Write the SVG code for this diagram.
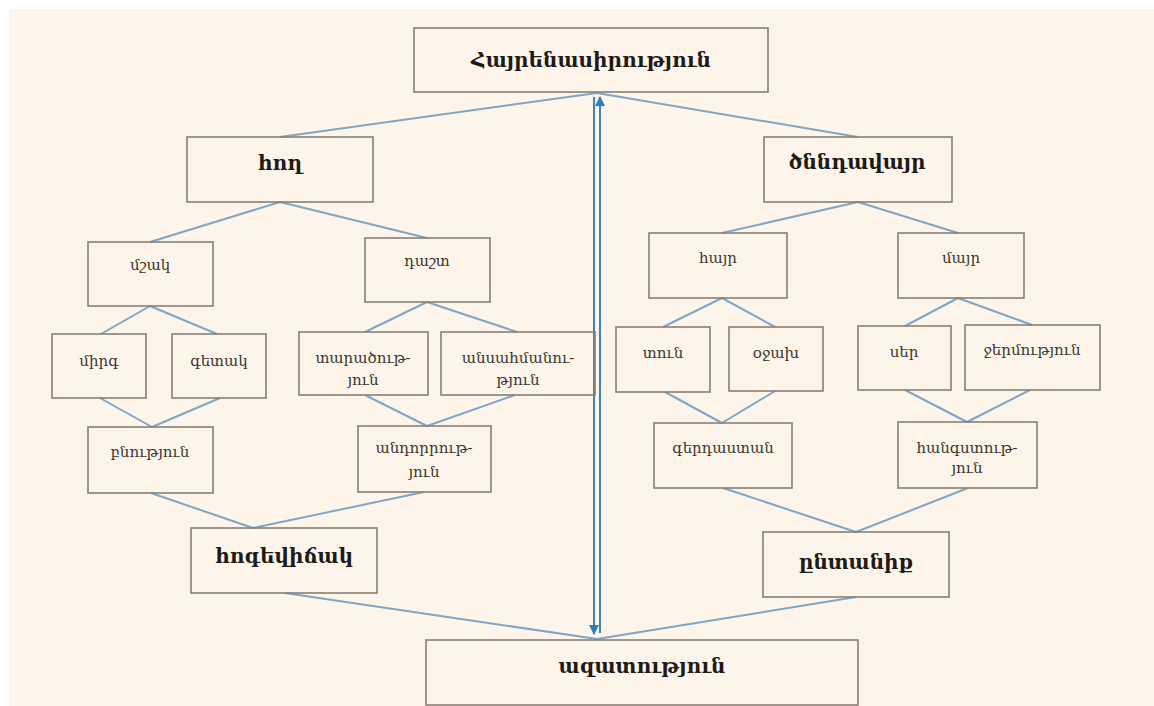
<svg xmlns="http://www.w3.org/2000/svg" width="1154" height="706" viewBox="0 0 1154 706">
  <style>
    .box { fill: none; stroke: #8a7f75; stroke-width: 1.6; }
    .lbl { font-family: "DejaVu Serif", "Liberation Serif", serif; font-size: 15px; fill: #3a3530; text-anchor: middle; }
    .hd { font-family: "DejaVu Serif", "Liberation Serif", serif; font-size: 20px; font-weight: bold; fill: #1e1a17; text-anchor: middle; }
    .ln { stroke: #7fa6c6; stroke-width: 2; fill: none; }
    .ax { stroke: #3c84ba; stroke-width: 2; fill: none; }
  </style>
  <defs>
    <marker id="head" viewBox="0 0 10 10" refX="9" refY="5" markerWidth="5" markerHeight="5" orient="auto-start-reverse">
      <path d="M0,0 L10,5 L0,10 z" fill="#2f7fb8"/>
    </marker>
  </defs>

  <rect x="0" y="0" width="1154" height="706" fill="#ffffff"/>
  <rect x="9" y="9" width="1145" height="697" fill="#fdf5ea"/>

  <g id="connectors">
    <line class="ln" x1="597" y1="93" x2="280" y2="137"/>
    <line class="ln" x1="597" y1="93" x2="858" y2="137"/>
    <line class="ln" x1="280" y1="202" x2="150" y2="242"/>
    <line class="ln" x1="280" y1="202" x2="427" y2="238"/>
    <line class="ln" x1="150" y1="306" x2="101" y2="334"/>
    <line class="ln" x1="150" y1="306" x2="217" y2="334"/>
    <line class="ln" x1="427" y1="302" x2="365" y2="332"/>
    <line class="ln" x1="427" y1="302" x2="517" y2="332"/>
    <line class="ln" x1="100" y1="398" x2="152" y2="427"/>
    <line class="ln" x1="220" y1="398" x2="152" y2="427"/>
    <line class="ln" x1="365" y1="395" x2="427" y2="426"/>
    <line class="ln" x1="515" y1="395" x2="427" y2="426"/>
    <line class="ln" x1="151" y1="493" x2="253" y2="528"/>
    <line class="ln" x1="424" y1="492" x2="253" y2="528"/>
    <line class="ln" x1="285" y1="593" x2="597" y2="639"/>
    <line class="ln" x1="856" y1="597" x2="597" y2="639"/>
    <line class="ln" x1="858" y1="202" x2="722" y2="233"/>
    <line class="ln" x1="858" y1="202" x2="958" y2="233"/>
    <line class="ln" x1="722" y1="298" x2="663" y2="327"/>
    <line class="ln" x1="722" y1="298" x2="775" y2="327"/>
    <line class="ln" x1="958" y1="298" x2="905" y2="326"/>
    <line class="ln" x1="958" y1="298" x2="1032" y2="325"/>
    <line class="ln" x1="665" y1="392" x2="722" y2="423"/>
    <line class="ln" x1="775" y1="391" x2="722" y2="423"/>
    <line class="ln" x1="905" y1="390" x2="967" y2="422"/>
    <line class="ln" x1="1030" y1="390" x2="967" y2="422"/>
    <line class="ln" x1="723" y1="488" x2="856" y2="532"/>
    <line class="ln" x1="968" y1="488" x2="856" y2="532"/>
    <!-- two-way link between the top and bottom concepts -->
    <line class="ax" x1="594" y1="97" x2="594" y2="634" marker-end="url(#head)"/>
    <line class="ax" x1="600" y1="633" x2="600" y2="97" marker-end="url(#head)"/>
  </g>

  <g id="n-root">
    <rect class="box" x="414" y="28" width="354" height="64"/>
    <text class="hd" x="591" y="67" font-size="22">Հայրենասիրություն</text>
  </g>
  <g id="n-hogh">
    <rect class="box" x="187" y="137" width="186" height="65"/>
    <text class="hd" x="280" y="170">հող</text>
  </g>
  <g id="n-tsnndavayr">
    <rect class="box" x="764" y="137" width="188" height="65"/>
    <text class="hd" x="857" y="169">ծննդավայր</text>
  </g>
  <g id="n-mshak">
    <rect class="box" x="88" y="242" width="125" height="64"/>
    <text class="lbl" x="150" y="270">մշակ</text>
  </g>
  <g id="n-dasht">
    <rect class="box" x="365" y="238" width="125" height="64"/>
    <text class="lbl" x="427" y="266">դաշտ</text>
  </g>
  <g id="n-mirg">
    <rect class="box" x="52" y="334" width="94" height="64"/>
    <text class="lbl" x="99" y="366">միրգ</text>
  </g>
  <g id="n-getak">
    <rect class="box" x="172" y="334" width="94" height="64"/>
    <text class="lbl" x="219" y="366">գետակ</text>
  </g>
  <g id="n-taratsutyun">
    <rect class="box" x="299" y="332" width="129" height="63"/>
    <text class="lbl" x="363" y="363">տարածութ-</text>
    <text class="lbl" x="363" y="385">յուն</text>
  </g>
  <g id="n-ansahmanutyun">
    <rect class="box" x="441" y="332" width="154" height="63"/>
    <text class="lbl" x="518" y="363">անսահմանու-</text>
    <text class="lbl" x="518" y="385">թյուն</text>
  </g>
  <g id="n-bnutyun">
    <rect class="box" x="88" y="427" width="125" height="66"/>
    <text class="lbl" x="150" y="457">բնություն</text>
  </g>
  <g id="n-andorrutyun">
    <rect class="box" x="358" y="426" width="133" height="66"/>
    <text class="lbl" x="424" y="453">անդորրութ-</text>
    <text class="lbl" x="424" y="477">յուն</text>
  </g>
  <g id="n-hogevitchak">
    <rect class="box" x="191" y="528" width="186" height="65"/>
    <text class="hd" x="284" y="563">հոգեվիճակ</text>
  </g>
  <g id="n-hayr">
    <rect class="box" x="649" y="233" width="138" height="65"/>
    <text class="lbl" x="718" y="263">հայր</text>
  </g>
  <g id="n-mayr">
    <rect class="box" x="898" y="233" width="126" height="65"/>
    <text class="lbl" x="961" y="263">մայր</text>
  </g>
  <g id="n-tun">
    <rect class="box" x="616" y="327" width="94" height="65"/>
    <text class="lbl" x="663" y="358">տուն</text>
  </g>
  <g id="n-ojakh">
    <rect class="box" x="729" y="327" width="94" height="64"/>
    <text class="lbl" x="776" y="358">օջախ</text>
  </g>
  <g id="n-ser">
    <rect class="box" x="858" y="326" width="93" height="64"/>
    <text class="lbl" x="904" y="357">սեր</text>
  </g>
  <g id="n-jermutyun">
    <rect class="box" x="965" y="325" width="135" height="65"/>
    <text class="lbl" x="1032" y="355">ջերմություն</text>
  </g>
  <g id="n-gerdastan">
    <rect class="box" x="654" y="423" width="138" height="65"/>
    <text class="lbl" x="723" y="453">գերդաստան</text>
  </g>
  <g id="n-hangstutyun">
    <rect class="box" x="898" y="422" width="139" height="66"/>
    <text class="lbl" x="967" y="453">հանգստութ-</text>
    <text class="lbl" x="967" y="473">յուն</text>
  </g>
  <g id="n-yntanik">
    <rect class="box" x="763" y="532" width="186" height="65"/>
    <text class="hd" x="856" y="569">ընտանիք</text>
  </g>
  <g id="n-azatutyun">
    <rect class="box" x="426" y="640" width="432" height="65"/>
    <text class="hd" x="642" y="673">ազատություն</text>
  </g>
</svg>
